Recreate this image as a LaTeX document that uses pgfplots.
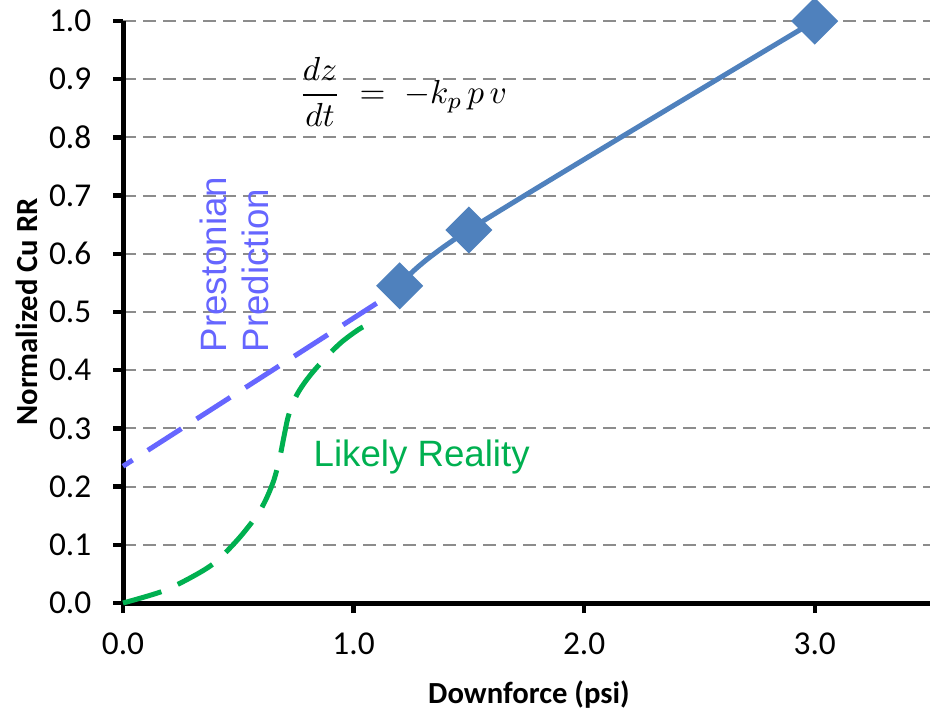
\documentclass[border=0pt]{standalone}
\usepackage{fontspec}
\setmainfont{Carlito}
\newfontfamily\arial{Liberation Sans}
\usepackage{pgfplots}
\pgfplotsset{compat=1.18}
\definecolor{blueS}{HTML}{4F81BD}
\definecolor{prest}{HTML}{6666FF}
\definecolor{greenS}{HTML}{00B050}
\definecolor{gridg}{RGB}{140,140,140}
\begin{document}
\begin{tikzpicture}
\path[use as bounding box] (0,0) rectangle (281.1pt,212.4pt);
\begin{axis}[
  at={(36.9pt,31.5pt)}, anchor=south west,
  scale only axis, width=242.1pt, height=174.6pt,
  xmin=0, xmax=3.5, ymin=0, ymax=1,
  axis lines=left,
  axis line style={-, line width=1.5pt, black},
  xtick={0,1,2,3},
  xticklabels={0.0,1.0,2.0,3.0},
  ytick={0,0.1,0.2,0.3,0.4,0.5,0.6,0.7,0.8,0.9,1.0},
  yticklabels={0.0,0.1,0.2,0.3,0.4,0.5,0.6,0.7,0.8,0.9,1.0},
  tick align=outside, major tick length=3pt,
  tick style={line width=1.3pt, black},
  tick label style={font=\fontsize{10}{12}\selectfont},
  xticklabel style={yshift=-2.4pt},
  yticklabel style={xshift=-3pt},
  ymajorgrids,
  major grid style={gridg, line width=0.6pt, dash pattern=on 3.9pt off 2.1pt},
  label style={font=\bfseries\fontsize{9.2}{11}\selectfont},
  xlabel={Downforce (psi)}, ylabel={Normalized Cu RR},
  xlabel style={at={(axis description cs:0.503,-0.172)}, anchor=base},
  ylabel style={at={(axis description cs:-0.119,0.5)}, anchor=center},
  clip=false,
]
\addplot[prest, line width=1.5pt, dash pattern=on 12pt off 5.4pt] coordinates {(1.1,0.515) (0,0.235)};
\addplot[greenS, line width=1.5pt, dash pattern=on 12pt off 5.4pt, smooth] coordinates {
 (0,0) (0.17,0.02) (0.30,0.045) (0.40,0.07) (0.50,0.11) (0.58,0.15) (0.62,0.178)
 (0.655,0.212) (0.68,0.25) (0.70,0.29) (0.715,0.318) (0.735,0.342) (0.76,0.362)
 (0.79,0.38) (0.83,0.40) (0.89,0.426) (0.95,0.449) (1.03,0.472) (1.10,0.485)};
\addplot[blueS, line width=1.5pt, smooth, mark=square*, mark size=4.24pt,
  mark options={rotate=45, solid, fill=blueS, draw=blueS}] coordinates {(1.2,0.545) (1.5,0.641) (3,1.0)};
\node[prest, font=\arial\fontsize{11}{12.6}\selectfont, rotate=90, anchor=west, align=left, inner sep=0pt] at (axis cs:0.485,0.43) {Prestonian\\Prediction};
\node[greenS, font=\arial\fontsize{11}{13}\selectfont, anchor=base west, inner sep=0pt] at (axis cs:0.824,0.234) {Likely Reality};
\node[anchor=west, inner sep=0pt, font=\fontsize{10}{12}\selectfont] at (axis cs:0.76,0.878) {$\displaystyle\frac{dz}{dt}\;=\;-k_{p\,}p\,v$};
\end{axis}
\end{tikzpicture}
\end{document}
